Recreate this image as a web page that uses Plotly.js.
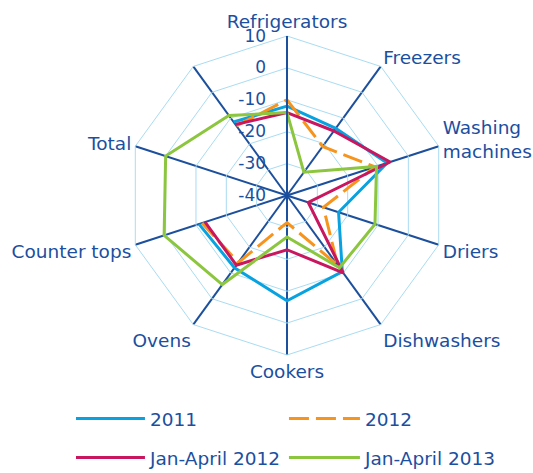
<!DOCTYPE html>
<html>
<head>
<meta charset="utf-8">
<script src="https://cdn.plot.ly/plotly-3.0.1.min.js"></script>
<style>html,body{margin:0;padding:0;background:#fff;}#chart{width:533px;height:473px;}</style>
</head>
<body>
<div id="chart"></div>
<script>
const categories = ["Refrigerators", "Freezers", "Washing<br>machines", "Driers", "Dishwashers", "Cookers", "Ovens", "Counter tops", "Total", " "];
const seriesNames = ["2011", "2012", "Jan-April 2012", "Jan-April 2013"];
const values2011 = [-12, -14, -7, -23, -10.5, -7, -12, -11, null, -11.5];
const values2012 = [-10, -21, -11, -28, -13, -31.5, -14, -12, null, -13];
const valuesJanApr2012 = [-14, -15, -6, -33, -10, -23, -13, -13, null, -12.5];
const valuesJanApr2013 = [-14, -31, -10.5, -11, -12, -27, -5.5, 0.5, 0, -9];
const radialTicks = [10, 0, -10, -20, -30, -40];

const TEXT = "#1b4f9f";
const colors = ["#08a2e0", "#f7941d", "#c8175e", "#8cc63f"];
const dashes = ["solid", "20px,7px", "solid", "solid"];
const legends = ["legend", "legend", "legend2", "legend2"];
const allValues = [values2011, values2012, valuesJanApr2012, valuesJanApr2013];

const closeLoop = arr => arr.concat([arr[0]]);

const traces = allValues.map((vals, i) => ({
  type: "scatterpolar",
  mode: "lines",
  name: seriesNames[i],
  r: closeLoop(vals),
  theta: closeLoop(categories),
  connectgaps: false,
  line: {color: colors[i], width: 3, dash: dashes[i]},
  legend: legends[i],
  hoverinfo: "skip"
}));

const legendBase = {
  orientation: "h",
  xanchor: "left",
  yanchor: "middle",
  x: 0.1425,
  bgcolor: "rgba(0,0,0,0)",
  font: {family: "DejaVu Sans", size: 18.5, color: TEXT},
  itemwidth: 71,
  indentation: -7,
  entrywidth: 136,
  entrywidthmode: "pixels"
};

const layout = {
  width: 533,
  height: 473,
  margin: {l: 0, r: 0, t: 0, b: 0, autoexpand: false},
  paper_bgcolor: "#ffffff",
  font: {family: "DejaVu Sans", color: TEXT},
  showlegend: true,
  legend: Object.assign({}, legendBase, {y: 1 - 419 / 473}),
  legend2: Object.assign({}, legendBase, {y: 1 - 458 / 473}),
  polar: {
    domain: {x: [127.5 / 533, 446.5 / 533], y: [(473 - 355) / 473, (473 - 36) / 473]},
    gridshape: "linear",
    bgcolor: "rgba(0,0,0,0)",
    angularaxis: {
      type: "category",
      categoryarray: categories,
      rotation: 90,
      direction: "clockwise",
      showline: true,
      linecolor: "#a9dcf2",
      linewidth: 1,
      showgrid: true,
      gridcolor: "#1c4f9c",
      gridwidth: 2,
      ticks: "",
      tickfont: {family: "DejaVu Sans", size: 18.5, color: TEXT}
    },
    radialaxis: {
      range: [-40, 10],
      tickvals: radialTicks,
      ticktext: radialTicks.map(String),
      angle: 90,
      side: "counterclockwise",
      showline: true,
      linecolor: "#1c4f9c",
      linewidth: 2,
      showgrid: true,
      gridcolor: "#a9dcf2",
      gridwidth: 1,
      ticks: "outside",
      ticklen: 14,
      tickcolor: "rgba(0,0,0,0)",
      tickangle: 90,
      tickfont: {family: "DejaVu Sans", size: 17, color: TEXT}
    }
  }
};

Plotly.newPlot("chart", traces, layout, {displayModeBar: false, staticPlot: true});
</script>
</body>
</html>
